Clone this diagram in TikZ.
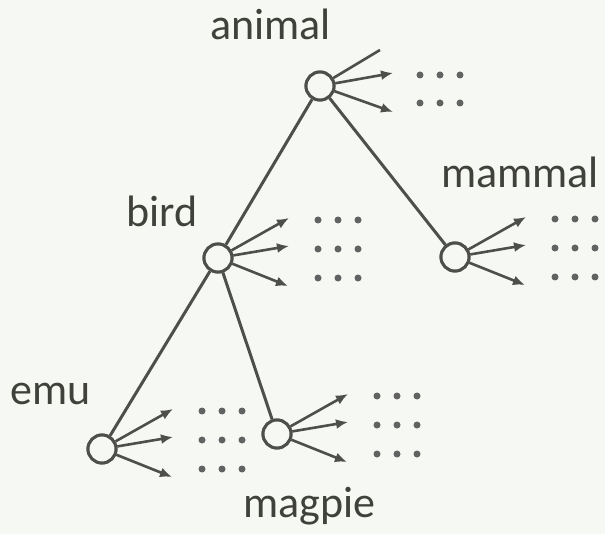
\documentclass[tikz,border=0pt]{standalone}
\usepackage{fontspec}
\setmainfont{Carlito}
\usetikzlibrary{arrows.meta,calc}
\definecolor{bgc}{HTML}{F6F8F3}
\definecolor{linec}{HTML}{4E4E4C}
\definecolor{textc}{HTML}{40413B}
\definecolor{dotc}{HTML}{626262}
\tikzset{
  treenode/.style={circle, draw=linec, line width=3pt, minimum size=28pt, inner sep=0pt, fill=bgc},
  treeedge/.style={draw=linec, line width=3pt},
  fanarrow/.style={draw=linec, line width=2.6pt, -{Latex[length=12pt,width=10pt]}},
  fanline/.style={draw=linec, line width=2.6pt},
  dotmark/.style={fill=dotc},
  lbl/.style={font=\fontsize{44}{48}\selectfont, text=textc, anchor=base west, inner sep=0pt}
}
\newcommand\fanrows[2]{%
  \foreach \ry in {#2}{
    \foreach \rx in {100,120,140}{
      \fill[dotmark] ($(#1)+(\rx,\ry)$) circle (3.5pt);
    }
  }
}
\begin{document}
\begin{tikzpicture}[x=1pt,y=-1pt]
\fill[bgc] (0,0) rectangle (605,534);
\useasboundingbox (0,0) rectangle (605,534);

% tree nodes
\node[treenode] (animal) at (320,86) {};
\node[treenode] (bird) at (218,258) {};
\node[treenode] (mammal) at (455,257) {};
\node[treenode] (emu) at (102,449) {};
\node[treenode] (magpie) at (277,434) {};

% tree edges
\draw[treeedge] (animal) -- (bird);
\draw[treeedge] (animal) -- (mammal);
\draw[treeedge] (bird) -- (emu);
\draw[treeedge] (bird) -- (magpie);

% fan arrows
\foreach \n in {bird,mammal,emu,magpie}{
  \coordinate (\n-a1) at ($(\n)+(71,-40)$);
  \coordinate (\n-a2) at ($(\n)+(71,-12)$);
  \coordinate (\n-a3) at ($(\n)+(70,28)$);
  \draw[fanarrow] (\n) -- (\n-a1);
  \draw[fanarrow] (\n) -- (\n-a2);
  \draw[fanarrow] (\n) -- (\n-a3);
  \fanrows{\n}{-38,-9,20}
}
\coordinate (animal-a1) at (380,50);
\coordinate (animal-a2) at ($(animal)+(73,-13)$);
\coordinate (animal-a3) at ($(animal)+(73,26)$);
\draw[fanline] (animal) -- (animal-a1);
\draw[fanarrow] (animal) -- (animal-a2);
\draw[fanarrow] (animal) -- (animal-a3);
\fanrows{animal}{-11,17}

% circles on top of the line ends
\foreach \n in {animal,bird,mammal,emu,magpie}{
  \draw[linec, line width=3pt, fill=bgc] (\n) circle (14pt);
}

% labels
\node[lbl] (lanimal) at (210,40) {animal};
\node[lbl] (lbird) at (126,227) {bird};
\node[lbl] (lmammal) at (441,188) {mammal};
\node[lbl] (lemu) at (10,405) {emu};
\node[lbl] (lmagpie) at (243,517) {magpie};
\end{tikzpicture}
\end{document}
